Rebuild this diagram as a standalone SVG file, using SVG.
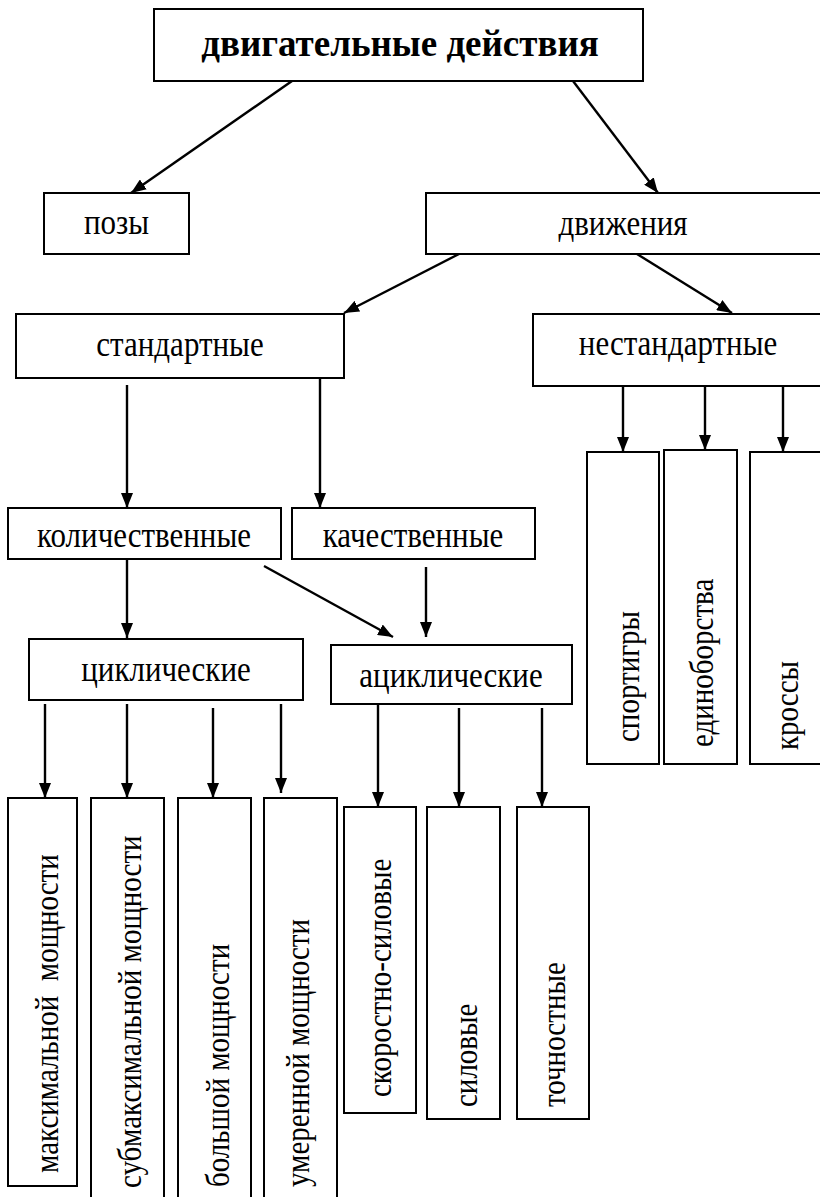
<svg xmlns="http://www.w3.org/2000/svg" width="820" height="1197" viewBox="0 0 820 1197">
<defs>
<marker id="ah" markerUnits="userSpaceOnUse" markerWidth="15" markerHeight="12" refX="15" refY="6" orient="auto">
<path d="M0,0 L15,6 L0,12 z" fill="#000"/>
</marker>
<style>
.box{fill:#fff;stroke:#000;stroke-width:2}
text{font-family:'Liberation Serif','DejaVu Serif',serif;fill:#000}
.t{font-size:31px;text-anchor:middle}
.v{font-size:29px;white-space:pre}
.b{font-weight:bold;font-size:37px}
.c{stroke:#000;stroke-width:2.4;fill:none;marker-end:url(#ah)}
</style>
</defs>
<rect width="820" height="1197" fill="#fff"/>
<g id="connectors">
<line class="c" x1="292" y1="81" x2="131" y2="193"/>
<line class="c" x1="573" y1="81" x2="658" y2="193"/>
<line class="c" x1="459" y1="254" x2="344" y2="313"/>
<line class="c" x1="637" y1="254" x2="732" y2="313"/>
<line class="c" x1="127" y1="385" x2="127" y2="508"/>
<line class="c" x1="320" y1="378" x2="320" y2="508"/>
<line class="c" x1="623" y1="386" x2="623" y2="452"/>
<line class="c" x1="705" y1="386" x2="705" y2="450"/>
<line class="c" x1="783" y1="386" x2="783" y2="452"/>
<line class="c" x1="127" y1="559" x2="127" y2="638"/>
<line class="c" x1="264" y1="566" x2="393" y2="637"/>
<line class="c" x1="426" y1="567" x2="426" y2="637"/>
<line class="c" x1="45" y1="704" x2="45" y2="798"/>
<line class="c" x1="127" y1="704" x2="127" y2="798"/>
<line class="c" x1="213" y1="708" x2="213" y2="798"/>
<line class="c" x1="281" y1="704" x2="281" y2="793"/>
<line class="c" x1="378" y1="704" x2="378" y2="807"/>
<line class="c" x1="459" y1="708" x2="459" y2="807"/>
<line class="c" x1="542" y1="708" x2="542" y2="807"/>
</g>
<g id="n-root"><rect class="box" x="154" y="9" width="489" height="72"/><text class="t b" x="400" y="56">двигательные действия</text></g>
<g id="n-pozy"><rect class="box" x="44" y="193" width="145" height="61"/><text class="t" transform="translate(116.5,234) scale(1,1.15)">позы</text></g>
<g id="n-dvizheniya"><rect class="box" x="426" y="193" width="396" height="61"/><text class="t" transform="translate(623,235) scale(1,1.15)">движения</text></g>
<g id="n-standart"><rect class="box" x="16" y="314" width="328" height="64"/><text class="t" transform="translate(180,356) scale(1,1.15)">стандартные</text></g>
<g id="n-nestandart"><rect class="box" x="533" y="314" width="289" height="72"/><text class="t" transform="translate(678,355) scale(1,1.15)">нестандартные</text></g>
<g id="n-kolich"><rect class="box" x="8" y="508" width="273" height="51"/><text class="t" transform="translate(144,547) scale(1,1.15)">количественные</text></g>
<g id="n-kachest"><rect class="box" x="292" y="508" width="243" height="51"/><text class="t" transform="translate(413,547) scale(1,1.15)">качественные</text></g>
<g id="n-cikl"><rect class="box" x="29" y="639" width="274" height="61"/><text class="t" transform="translate(166,681) scale(1,1.15)">циклические</text></g>
<g id="n-acikl"><rect class="box" x="331" y="645" width="241" height="59"/><text class="t" transform="translate(451,687) scale(1,1.15)">ациклические</text></g>
<g id="n-sportigry"><rect class="box" x="587" y="452" width="72" height="312"/><text class="v" transform="translate(639,742) rotate(-90) scale(1,1.15)">спортигры</text></g>
<g id="n-edinoborstva"><rect class="box" x="664" y="450" width="73" height="314"/><text class="v" transform="translate(713,747) rotate(-90) scale(1,1.15)">единоборства</text></g>
<g id="n-krossy"><rect class="box" x="750" y="452" width="72" height="312"/><text class="v" transform="translate(798,750) rotate(-90) scale(1,1.15)">кроссы</text></g>
<g id="n-max"><rect class="box" x="8" y="798" width="69" height="388"/><text class="v" transform="translate(58,1173) rotate(-90) scale(1,1.15)">максимальной  мощности</text></g>
<g id="n-submax"><rect class="box" x="91" y="798" width="73" height="410"/><text class="v" transform="translate(141,1188) rotate(-90) scale(1,1.15)">субмаксимальной мощности</text></g>
<g id="n-bolsh"><rect class="box" x="178" y="798" width="73" height="410"/><text class="v" transform="translate(229,1187) rotate(-90) scale(1,1.15)">большой мощности</text></g>
<g id="n-umer"><rect class="box" x="264" y="798" width="73" height="410"/><text class="v" transform="translate(309,1187) rotate(-90) scale(1,1.15)">умеренной мощности</text></g>
<g id="n-skor"><rect class="box" x="344" y="807" width="72" height="306"/><text class="v" transform="translate(391,1097) rotate(-90) scale(1,1.15)">скоростно-силовые</text></g>
<g id="n-silov"><rect class="box" x="427" y="807" width="73" height="312"/><text class="v" transform="translate(477,1107) rotate(-90) scale(1,1.15)">силовые</text></g>
<g id="n-tochn"><rect class="box" x="517" y="807" width="72" height="312"/><text class="v" transform="translate(565,1107) rotate(-90) scale(1,1.15)">точностные</text></g>
</svg>
